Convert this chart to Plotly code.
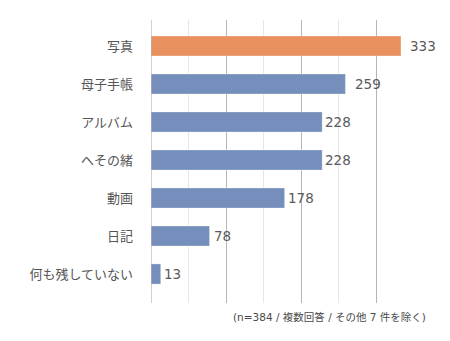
import plotly.graph_objects as go

categories = ["写真", "母子手帳", "アルバム", "へその緒", "動画", "日記", "何も残していない"]
values = [333, 259, 228, 228, 178, 78, 13]
label_gap = [7, 8, 1, 1, 1, 2, 1]  # px gap between bar end and label

FONT = "Noto Sans CJK JP, Noto Sans, sans-serif"
NUMFONT = "DejaVu Sans, Noto Sans CJK JP, sans-serif"
ORANGE = "#E8915F"
BLUE = "#758EBC"
colors = [ORANGE] + [BLUE] * (len(values) - 1)

fig = go.Figure()
fig.add_trace(go.Bar(
    x=values, y=categories, orientation="h",
    marker=dict(color=colors, line=dict(color="rgba(255,255,255,0.35)", width=1)),
    width=0.53, hoverinfo="skip",
))

for c, v, g in zip(categories, values, label_gap):
    fig.add_annotation(x=v, y=c, text=str(v), showarrow=False, xanchor="left",
                       xshift=g, font=dict(family=NUMFONT, size=13.5, color="#5A5A5A"))

fig.add_annotation(xref="paper", yref="paper", x=1.055, y=-0.05, xanchor="right", yanchor="middle",
                   text="(n=384 / 複数回答 / その他 7 件を除く)", showarrow=False,
                   font=dict(family=NUMFONT, size=10.5, color="#4A4A4A"))

fig.update_layout(
    width=450, height=341,
    margin=dict(l=151, r=36, t=20, b=38),
    paper_bgcolor="white", plot_bgcolor="white",
    showlegend=False,
    xaxis=dict(range=[0, 350.3], dtick=100, showgrid=True, gridcolor="#B5B5B5", gridwidth=1,
               minor=dict(dtick=50, showgrid=True, gridcolor="#E6E6E6"),
               showticklabels=False, zeroline=False, showline=False, fixedrange=True),
    yaxis=dict(categoryorder="array", categoryarray=categories, range=[6.763, -0.684],
               showgrid=False, zeroline=False, showline=False, ticks="",
               ticklabelstandoff=17,
               tickfont=dict(family=FONT, size=13, color="#555555")),
)
fig.add_shape(type="line", xref="x", yref="paper", x0=0, x1=0, y0=0, y1=1,
              line=dict(color="#A6A6A6", width=1))

fig.write_html("out.html")
